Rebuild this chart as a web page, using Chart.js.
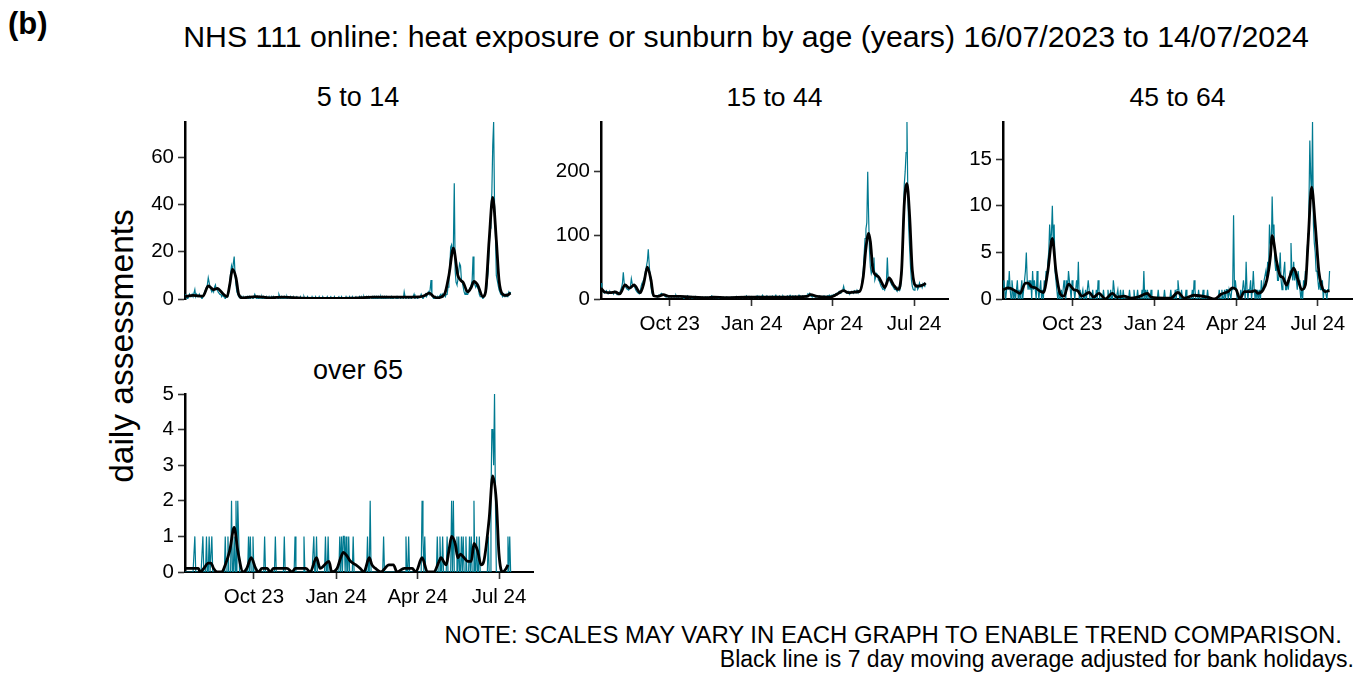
<!DOCTYPE html>
<html><head><meta charset="utf-8">
<script src="https://cdn.jsdelivr.net/npm/chart.js@4.4.1/dist/chart.umd.min.js"></script>
<style>
html,body{margin:0;padding:0;background:#fff;}
body{width:1362px;height:675px;overflow:hidden;position:relative;font-family:'Liberation Sans',Arial,sans-serif;color:#000;}
.t{position:absolute;white-space:nowrap;line-height:1;}
canvas{position:absolute;}
</style></head><body>
<div class="t" id="tag" style="left:8px;top:8px;font-size:31px;font-weight:bold;">(b)</div>
<div class="t" id="title" style="left:746px;top:21.5px;font-size:30.3px;transform:translateX(-50%);">NHS 111 online: heat exposure or sunburn by age (years) 16/07/2023 to 14/07/2024</div>
<div class="t" style="left:358px;top:83.5px;font-size:27px;transform:translateX(-50%);">5 to 14</div>
<div class="t" style="left:774.5px;top:83.5px;font-size:26.5px;transform:translateX(-50%);">15 to 44</div>
<div class="t" style="left:1177.5px;top:83.5px;font-size:26.5px;transform:translateX(-50%);">45 to 64</div>
<div class="t" style="left:358px;top:356.5px;font-size:27px;transform:translateX(-50%);">over 65</div>
<div class="t" style="left:122px;top:346px;font-size:33.5px;transform:translate(-50%,-50%) rotate(-90deg);">daily assessments</div>
<div class="t" style="right:20px;top:622.5px;font-size:23.9px;">NOTE: SCALES MAY VARY IN EACH GRAPH TO ENABLE TREND COMPARISON.</div>
<div class="t" style="right:8px;top:648px;font-size:23px;">Black line is 7 day moving average adjusted for bank holidays.</div>
<script>
// ---- dates / ticks ----
const startDate = '2023-07-16';
const axisEndDate = '2024-08-08';
const tickDates = ['2023-10-01','2024-01-01','2024-04-01','2024-07-01'];
const tickLabels = ['Oct 23','Jan 24','Apr 24','Jul 24'];

// ---- 5 to 14 ----
const yTicks514 = [0,20,40,60];
const yMax514 = 75;
const daily514 = [
2,1,1,0,1,2,1, 1,2,1,1,4,1,2, 1,1,2,1,1,0,1,
2,3,4,5,6,9,7,5,4,3,
4,3,5,6,4,4,3,
3,2,2,1,2,1,1,0,1,1,
2,4,7,11,14,12,15,18,10,6,3,2,1,1,0,
1,0,1,0,0,1,0,1,0,1,
0,1,1,0,1,2,1,0,1,0,
1,0,0,1,0,1,0,0,1,0,
0,1,0,0,1,0,1,0,0,1,
1,0,2,1,0,1,0,0,1,0,
0,1,0,0,0,1,0,0,1,0,
0,0,1,0,0,0,1,0,0,0,
1,0,0,0,1,0,0,0,0,1,
0,0,0,1,0,0,0,1,0,0,
0,1,0,0,0,0,1,0,0,0,
1,0,0,0,1,0,0,0,0,1,
0,0,1,0,0,0,0,1,0,0,
0,1,0,0,1,0,0,0,1,0,
0,0,1,0,1,0,0,1,0,0,
1,0,1,0,1,1,0,1,0,1,
0,1,0,1,0,0,1,0,1,0,
1,0,1,0,0,1,1,0,1,0,
0,1,1,0,1,0,1,1,0,1,
1,0,3,1,0,1,1,0,1,1,
0,1,1,2,0,1,1,0,1,1,
1,2,1,0,1,1,2,
1,2,3,2,4,8,2,1,0,
0,1,0,1,0,1,1,2,1,2,
1,2,1,2,
2,5,10,14,22,23,20,22,49,12,7,6,8,12,15,14,8,7,5,3,2,3,2,
2,3,4,5,6,8,18,7,6,5,6,5,4,2,1,
1,1,0,1,2,3,4,8,
12,22,30,38,45,65,75,40,28,10,8,6,
4,3,2,2,1,2,1,1,2,1,2,3,2,3
];
const maDays514 = [0,9,20,26,32,36,43,47,50,53,57,60,64,80,95,110,130,160,190,211,241,262,268,273,278,282,290,295,300,305,308,311,316,320,323,327,333,336,340,344,348,351,355,359,364];
const maVals514 = [1,1.5,1.2,5.5,4,4.5,2,1,6,12.5,9,2,0.5,1,0.5,0.8,0.4,0.3,0.4,0.8,0.8,0.9,1.5,2.5,1,0.5,2,10,21.5,10,8,7,3,5,7.5,6,1,3,25,43,25,8,2,1.5,2.5];

// ---- 15 to 44 ----
const yTicks1544 = [0,100,200];
const yMax1544 = 278;
const daily1544 = [
25,18,12,10,9,11,13,10,8,9,12,10,9,11,8,12,10,9,7,8,9,
10,14,18,24,42,25,20,18,16,15,
14,17,20,32,24,22,20,18,14,12,
10,9,8,12,20,25,28,30,35,45,
52,60,78,55,35,20,10,6,5,4,
4,5,3,4,6,5,8,9,7,6,5,4,3,5,4,3,4,
4,3,5,4,3,4,6,3,4,3,
5,4,3,3,4,2,3,4,3,5,
3,2,3,4,2,3,2,3,4,2,
3,2,2,3,1,2,3,2,2,3,
2,3,2,1,2,3,5,4,2,3,
2,2,3,2,1,2,3,2,2,3,
2,1,2,3,2,2,1,2,3,2,
3,2,2,3,4,2,3,2,3,4,
3,2,3,4,3,5,3,2,4,3,
3,4,3,2,3,4,3,5,3,4,
4,3,3,6,4,3,4,3,5,4,
3,4,4,3,5,4,3,4,6,3,
4,3,5,4,3,4,5,3,4,3,
4,5,3,4,6,4,3,5,4,4,
5,4,3,4,6,5,4,3,5,4,
4,5,3,6,8,7,9,5,4,3,
4,5,3,4,5,4,3,5,4,3,
4,3,5,4,3,4,5,4,6,5,
4,6,
5,7,6,8,9,7,10,12,9,11,
12,14,20,13,11,9,10,12,9,8,
10,12,11,9,13,12,10,14,11,13,
12,15,20,30,45,70,95,110,120,200,
130,75,50,40,45,55,65,30,35,40,
38,30,28,24,20,18,
15,16,14,20,28,65,30,32,28,25,
22,20,18,15,16,14,12,18,15,14,20,
40,80,120,180,200,230,278,160,110,80,
50,30,20,15,
14,18,20,22,15,18,25,20,22,18,24,22,20,25
];
const maDays1544 = [0,4,10,16,21,27,32,37,44,48,52,56,59,64,70,76,89,104,119,126,141,163,186,208,231,235,242,257,264,272,277,285,290,294,297,300,302,305,311,315,318,323,328,333,337,340,343,346,349,354,361,364];
const maVals1544 = [17,11,10,11,8,22,17,22,10,25,50,30,5,4,7,4,4,3,2,3,2,3,3,3,4,7,4,3,7,13,10,11,12,35,80,103,90,45,35,25,18,33,22,15,45,150,181,130,45,20,22,25];

// ---- 45 to 64 ----
const yTicks4564 = [0,5,10,15];
const yMax4564 = 19;
const daily4564 = [
1,2,1,0,1,2,1,3,1,0,
2,1,0,1,0,1,2,0,1,0,
1,2,0,1,2,3,5,2,1,2,
1,2,0,3,1,2,1,0,3,1,
0,1,2,0,1,0,2,1,3,2,
4,5,8,6,7,10,6,8,3,2,
1,0,1,0,0,1,0,1,2,1,
0,2,1,3,2,1,0,2,1,1,
0,1,2,1,4,0,1,0,0,1,
0,0,1,0,1,2,1,0,0,0,
1,0,0,0,1,0,2,1,0,0,
0,0,1,0,0,0,0,1,0,0,
1,0,0,2,1,0,0,0,1,0,
0,1,0,0,1,0,0,0,0,0,
0,1,0,0,0,0,1,0,0,0,
1,0,0,0,0,1,0,3,0,1,
0,1,0,0,0,1,0,0,0,0,
0,0,0,1,0,0,0,0,0,0,
1,0,0,0,0,0,0,1,0,0,
0,0,1,0,1,2,1,0,0,1,
0,0,0,0,1,0,0,0,0,0,
0,1,0,2,1,0,0,0,1,0,
0,0,0,1,0,0,0,0,1,0,
0,0,0,0,0,0,0,0,0,0,
0,1,0,0,1,0,0,1,0,1,
1,0,1,1,0,1,1,9,1,2,
1,0,0,0,0,1,0,1,2,1,
0,4,1,0,1,1,2,0,1,3,
1,0,1,0,1,0,1,0,2,1,
1,2,2,3,2,4,3,8,6,5,
11,7,8,4,3,4,2,2,3,5,
2,1,2,3,4,1,1,2,1,2,
3,6,3,2,4,2,3,2,1,3,
2,1,0,1,0,2,1,3,2,5,
7,10,17,13,11,19,8,6,5,3,
3,2,1,2,1,1,2,0,1,1,
1,0,1,1,3
];
const maDays4564 = [0,6,15,19,25,28,32,36,42,45,50,55,59,64,68,73,79,83,88,96,101,107,114,122,127,135,142,150,161,165,180,187,195,202,213,228,236,243,251,256,260,264,269,277,281,284,290,294,298,300,305,309,312,316,320,324,329,333,337,340,344,348,352,355,359,364];
const maVals4564 = [1,1.2,0.8,0.6,1.7,1.7,1.3,1.2,0.8,0.7,3,6.5,3,0.5,0.3,1.6,1,0.9,0.3,0.7,0.2,0.6,0,0.6,0.2,0.3,0.1,0.2,0.6,0.2,0.1,0.1,0.7,0.1,0.4,0.2,0,0.5,0.8,1.2,1,0,0.8,0.8,0.9,0.6,1,2,4.5,6.8,4,2.5,2.3,1.5,2.5,3.3,2,1,1.5,6,12,8,3,1.5,0.8,0.9];

// ---- over 65 ----
const yTicks65 = [0,1,2,3,4,5];
const yMax65 = 5;
const daily65 = [
0,0,0,0,0,0,0,0,0,0,
0,1,0,0,0,0,0,0,0,0,
1,0,0,0,1,0,0,1,0,0,
1,0,0,0,0,0,0,0,0,0,
0,0,0,0,0,1,0,0,1,0,
0,0,2,0,0,1,0,2,0,2,
1,0,0,0,0,0,0,0,0,0,
0,1,0,1,0,0,1,0,0,0,
0,0,0,0,0,0,0,0,0,1,
0,0,0,0,0,0,0,0,0,0,
0,1,0,0,0,0,0,0,0,0,
0,1,0,0,0,0,0,0,0,0,
0,0,0,1,0,0,0,0,0,0,
0,0,0,1,0,0,0,0,0,0,
0,0,0,0,1,0,0,1,0,0,
0,0,0,0,0,0,0,1,0,0,
1,0,0,0,0,0,0,0,0,0,
0,0,0,1,0,1,0,1,1,0,
1,0,0,1,0,0,0,0,1,0,
0,0,0,0,0,0,0,0,0,0,
0,0,0,0,1,0,0,2,0,0,
0,0,0,0,0,0,0,0,0,0,
0,0,1,0,0,0,0,0,0,0,
0,0,0,0,0,0,0,0,0,0,
0,0,0,0,0,0,0,1,0,0,
1,0,0,0,0,0,0,0,0,0,
0,0,0,0,0,2,1,0,1,0,
0,0,0,0,0,0,0,0,0,0,
0,0,1,0,0,1,0,0,1,0,
0,0,0,1,0,0,0,0,2,0,
2,0,0,0,1,0,1,0,0,1,
0,1,0,0,1,0,0,0,1,0,
1,0,0,2,0,0,1,0,0,1,
0,0,0,0,0,0,0,0,0,1,
0,0,2,4,4,3,5,2,0,0,
0,0,0,0,0,0,0,0,0,0,
0,1,0,1,0
];
const maDays65 = [0,8,15,17,21,26,29,32,36,41,45,50,55,59,65,69,74,79,82,86,92,95,99,114,120,123,135,140,147,151,161,164,170,174,177,181,185,191,196,200,206,209,213,219,228,233,237,245,254,258,265,271,278,284,286,292,295,298,302,305,308,312,316,320,323,327,331,334,340,344,348,351,355,359,361];
const maVals65 = [0.1,0.1,0.1,0,0.1,0.25,0.25,0.1,0,0,0.2,0.6,1.25,0.6,0,0.1,0.4,0.1,0,0.1,0.1,0,0.1,0.1,0,0.1,0.1,0,0.4,0.1,0.3,0,0.1,0.4,0.55,0.45,0.3,0.2,0.1,0,0.4,0.2,0.1,0,0.2,0.2,0,0.1,0.1,0,0.4,0,0,0.3,0.4,0.2,0.6,1,0.8,0.4,0.5,0.4,0.3,0.3,0.8,0.6,0.2,0.3,1.5,2.7,2,0.5,0,0.1,0.2];

// ---- rendering ----
const TEAL = '#007A91';
const FONT = "'Liberation Sans', Arial, sans-serif";
const dayOf = s => Math.round((Date.parse(s + 'T00:00:00Z') - Date.parse(startDate + 'T00:00:00Z')) / 86400000);
const xTickVals = tickDates.map(dayOf);

function panel(o) {
  const yW = 70, padTop = 10, padRight = 20;
  const xH = o.showX ? 44 : 0, padBottom = o.showX ? 0 : 16;
  const W = yW + o.w + padRight, H = padTop + o.h + xH + padBottom;
  const cv = document.createElement('canvas');
  cv.width = W; cv.height = H;
  Object.assign(cv.style, {left: (o.left - yW) + 'px', top: (o.top - padTop) + 'px', width: W + 'px', height: H + 'px'});
  document.body.appendChild(cv);
  new Chart(cv, {
    type: 'line',
    data: {datasets: [
      {data: o.maDays.map((d, i) => ({x: d, y: o.maVals[i]})), borderColor: '#000', borderWidth: 2.8,
       pointRadius: 0, cubicInterpolationMode: 'monotone', fill: false},
      {data: o.daily.map((v, i) => ({x: i, y: v})), borderColor: TEAL, borderWidth: 1.2,
       pointRadius: 0, tension: 0, fill: false}
    ]},
    options: {
      responsive: false, animation: false, devicePixelRatio: 1, events: [],
      layout: {padding: {top: padTop, right: padRight, bottom: padBottom, left: 0}},
      plugins: {legend: {display: false}, tooltip: {enabled: false}, title: {display: false}},
      scales: {
        x: {type: 'linear', min: 0, max: dayOf(axisEndDate), display: o.showX,
          afterBuildTicks: s => { s.ticks = xTickVals.map(v => ({value: v})); },
          afterFit: s => { s.height = xH; s.paddingLeft = 0; s.paddingRight = 0; },
          ticks: {autoSkip: false, maxRotation: 0, minRotation: 0, padding: 6, color: '#000',
            font: {family: FONT, size: 20.5},
            callback: v => { const k = xTickVals.indexOf(v); return k >= 0 ? tickLabels[k] : ''; }},
          grid: {display: true, drawOnChartArea: false, drawTicks: true, tickLength: 7, tickColor: '#333', tickWidth: 1.6},
          border: {display: true, color: '#000', width: 2}},
        y: {type: 'linear', min: 0, max: o.ymax,
          afterBuildTicks: s => { s.ticks = o.yticks.map(v => ({value: v})); },
          afterFit: s => { s.width = yW; s.paddingTop = 0; s.paddingBottom = 0; },
          ticks: {padding: 4, color: '#000', font: {family: FONT, size: 20.5}},
          grid: {display: true, drawOnChartArea: false, drawTicks: true, tickLength: 7, tickColor: '#333', tickWidth: 1.6},
          border: {display: true, color: '#000', width: 2.5}}
      }
    }
  });
}

panel({left: 185, top: 122, w: 348, h: 177, showX: false, ymax: yMax514, yticks: yTicks514, daily: daily514, maDays: maDays514, maVals: maVals514});
panel({left: 601, top: 122, w: 347, h: 177, showX: true, ymax: yMax1544, yticks: yTicks1544, daily: daily1544, maDays: maDays1544, maVals: maVals1544});
panel({left: 1003, top: 122, w: 349, h: 177, showX: true, ymax: yMax4564, yticks: yTicks4564, daily: daily4564, maDays: maDays4564, maVals: maVals4564});
panel({left: 185, top: 394, w: 348, h: 178, showX: true, ymax: yMax65, yticks: yTicks65, daily: daily65, maDays: maDays65, maVals: maVals65});
</script>
</body></html>
